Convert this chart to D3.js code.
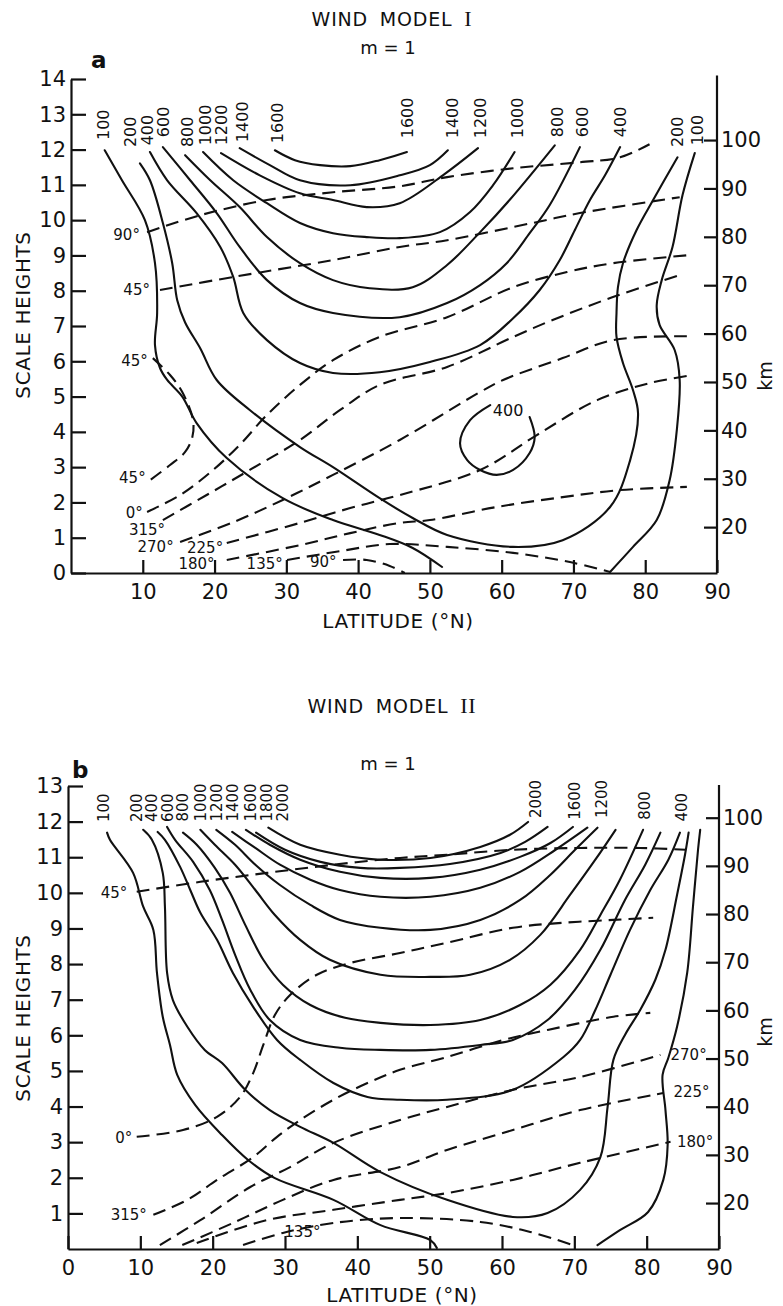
<!DOCTYPE html>
<html>
<head>
<meta charset="utf-8">
<script src="https://cdn.jsdelivr.net/npm/d3@7"></script>
<style>
  body { margin: 0; background: #fff; }
  text { font-family: "DejaVu Sans", sans-serif; fill: #111; }
</style>
</head>
<body>
<div class="canvas"></div>
<script>
// ---------- shared ticks ----------
const latTicksA = [10, 20, 30, 40, 50, 60, 70, 80, 90];
const latTicksB = [0, 10, 20, 30, 40, 50, 60, 70, 80, 90];
const shTicksA = d3.range(0, 15);
const shTicksB = d3.range(1, 14);
const kmTicks = [20, 30, 40, 50, 60, 70, 80, 90, 100];

// ---------- panel a : wind model I  ([latitude °N, scale heights]) ----------
const a100W = [[4.7,11.98],[7.1,11.13],[10.3,10.0],[11.7,8.78],[12.0,7.37],[11.7,6.46],[12.4,5.81],[13.4,5.47],[15.5,5.0],[17.5,4.25],[21.7,3.26],[29.5,2.12],[36.5,1.5],[43.0,1.08],[47.6,0.71],[51.7,0.17]];
const a100E = [[86.9,11.9],[85.2,10.71],[83.8,9.24],[82.3,8.3],[81.6,7.59],[82.0,7.03],[84.1,6.32],[84.8,5.47],[84.4,4.05],[83.4,2.63],[81.6,1.5],[78.3,0.74],[75.1,0.03]];
const a200 = [[9.6,11.61],[11.0,11.13],[12.8,9.92],[14.1,8.78],[14.8,7.73],[15.9,7.1],[18.0,6.37],[20.3,5.47],[24.9,4.62],[31.9,3.57],[36.5,3.0],[43.0,2.12],[47.6,1.56],[52.4,1.08],[61.6,0.74],[68.5,0.93],[75.1,1.87],[77.9,3.2],[79.0,4.53],[78.3,5.18],[76.9,5.95],[76.0,6.69],[76.0,7.37],[76.2,8.1],[76.9,8.78],[78.8,9.72],[81.1,10.57],[84.5,11.78]];
const a400 = [[11.0,11.93],[13.4,11.13],[17.5,10.2],[20.8,9.24],[22.6,8.39],[24.0,7.37],[27.3,6.6],[31.9,5.95],[36.5,5.67],[43.0,5.69],[50.0,5.98],[57.0,6.46],[61.6,7.22],[65.3,8.02],[68.1,8.87],[70.2,9.72],[72.3,10.57],[74.4,11.27],[76.5,12.07]];
const a600 = [[12.8,12.07],[16.6,11.13],[20.3,10.2],[23.5,9.24],[27.3,8.3],[31.9,7.65],[36.5,7.37],[45.8,7.25],[52.4,7.65],[57.0,8.16],[60.7,8.78],[63.9,9.63],[66.7,10.43],[70.9,12.07]];
const a800 = [[15.9,11.84],[19.4,11.13],[23.5,10.37],[27.3,9.52],[31.9,8.78],[36.5,8.3],[41.6,8.07],[47.6,8.1],[52.4,8.73],[57.0,9.66],[61.1,10.57],[67.4,12.12]];
const a1000 = [[18.4,11.93],[22.6,11.13],[27.3,10.48],[31.9,9.92],[36.5,9.63],[41.2,9.52],[45.8,9.49],[51.4,9.66],[55.6,10.23],[58.8,10.99],[61.8,11.93]];
const a1200 = [[20.9,11.9],[26.3,11.27],[31.9,10.76],[36.5,10.57],[41.2,10.37],[45.8,10.48],[51.8,11.27],[56.7,12.04]];
const a1400 = [[23.5,12.04],[27.7,11.56],[31.9,11.13],[38.9,10.99],[45.8,11.27],[50.0,11.56],[52.5,11.98]];
const a1600 = [[28.4,11.98],[31.2,11.7],[34.7,11.56],[38.9,11.53],[43.0,11.7],[46.8,11.93]];
const a400Cell = [[63.9,4.42],[64.6,3.85],[63.9,3.4],[61.6,2.92],[59.3,2.78],[57.0,2.92],[55.2,3.2],[54.2,3.68],[55.6,4.33],[58.4,4.76]];

const aPh90Top = [[10.6,9.66],[18.0,10.14],[27.3,10.57],[36.5,10.79],[45.8,10.96],[52.4,11.22],[61.6,11.47],[70.9,11.64],[76.5,11.78],[80.6,12.15]];
const aPh45Top = [[12.4,8.02],[22.6,8.39],[36.5,8.87],[45.8,9.24],[52.4,9.43],[64.3,9.92],[70.9,10.2],[84.8,10.65]];
const aPh45Hook = [[11.4,6.09],[13.8,5.61],[15.5,5.13],[17.0,4.33],[16.9,3.85],[15.9,3.43],[13.8,3.06],[11.0,2.63]];
const aPh0 = [[10.6,1.73],[15.2,2.21],[19.8,2.92],[23.5,3.63],[27.3,4.48],[31.9,5.33],[36.5,6.03],[43.0,6.69],[52.4,7.25],[61.6,8.1],[69.1,8.53],[75.5,8.78],[86.2,9.01]];
const aPh315 = [[12.8,1.5],[18.9,2.21],[24.9,2.92],[31.9,3.77],[37.5,4.62],[43.0,5.33],[52.4,5.84],[61.6,6.69],[67.1,7.17],[75.5,7.82],[85.2,8.47]];
const aPh270 = [[15.2,0.88],[22.6,1.44],[29.5,2.07],[36.5,2.78],[45.8,3.77],[57.0,5.13],[60.2,5.47],[68.5,6.09],[75.5,6.6],[85.8,6.71]];
const aPh225 = [[21.7,0.85],[31.9,1.42],[38.9,1.84],[45.8,2.21],[57.0,2.92],[64.9,3.91],[73.3,4.9],[80.6,5.38],[86.6,5.61]];
const aPh180 = [[21.7,0.37],[31.9,0.79],[38.9,1.13],[45.8,1.42],[50.0,1.5],[59.3,1.87],[68.5,2.15],[76.5,2.35],[85.8,2.44]];
const aPh135 = [[30.1,0.37],[37.5,0.62],[44.4,0.82],[52.4,0.74],[61.6,0.57],[69.5,0.31],[75.1,0.03]];
const aPh90Low = [[37.9,0.37],[41.2,0.37],[44.4,0.2],[46.5,0.0]];

// contour value labels: [value, latitude, scale height at label foot]
const aTopLabels = [['100',4.5,12.27],['200',8.2,12.07],['400',10.6,12.12],['600',12.8,12.35],['800',16.2,12.07],['1000',18.7,12.12],['1200',21.0,12.12],['1400',23.8,12.21],['1600',28.7,12.18],
  ['1600',46.9,12.32],['1400',53.1,12.32],['1200',57.0,12.32],['1000',62.1,12.32],['800',67.7,12.35],['600',71.2,12.35],['400',76.5,12.35],['200',84.4,12.07],['100',87.3,12.12]];
const aCellLabel = [['400',60.9,4.62]];
const aPhaseLabelsL = [['90°',9.6,9.58],['45°',11.0,8.02],['45°',10.7,6.03],['45°',10.4,2.69],['0°',10.0,1.70],['315°',13.1,1.22],['270°',14.3,0.74],['225°',21.2,0.71],['180°',20.0,0.26],['135°',29.5,0.28],['90°',37.0,0.31]];
const aPhaseLabelsR = [];

// ---------- panel b : wind model II ----------
const b100W = [[5.4,11.69],[5.8,11.49],[9.0,10.56],[10.4,9.61],[11.8,8.96],[12.3,7.75],[13.1,6.52],[14.1,5.73],[15.1,4.89],[17.6,4.04],[21.3,3.2],[24.9,2.5],[28.6,1.99],[36.7,1.38],[43.2,0.67],[50.1,0.25],[51.0,0.03]];
const b100E = [[87.4,11.77],[87.1,11.21],[86.4,9.61],[85.6,7.75],[84.2,6.24],[83.0,5.37],[82.2,4.89],[82.6,3.9],[82.9,2.92],[82.3,1.94],[80.2,1.04],[76.3,0.53],[73.2,0.11]];
const b200 = [[10.4,11.77],[11.6,11.49],[13.1,10.56],[13.4,9.61],[13.7,7.75],[14.5,6.99],[16.5,6.24],[18.9,5.59],[21.3,5.22],[24.5,4.47],[27.9,3.9],[32.1,3.43],[36.7,2.98],[43.2,2.16],[52.4,1.38],[61.5,0.9],[66.3,1.01],[70.8,1.66],[73.6,2.58],[74.6,3.99],[75.4,5.31],[77.0,6.01],[79.1,6.71],[81.2,7.56],[82.6,8.4],[84.2,9.94],[85.3,11.07],[85.8,11.69]];
const b400 = [[12.4,11.71],[13.4,11.49],[15.5,10.73],[16.9,10.08],[18.3,9.44],[20.6,8.68],[22.8,7.75],[25.6,6.8],[28.9,5.87],[32.1,5.31],[36.7,4.66],[41.4,4.27],[45.9,4.19],[52.4,4.19],[61.5,4.47],[68.5,5.39],[70.8,5.87],[72.9,6.71],[75.0,7.7],[77.7,8.96],[80.5,10.08],[83.0,10.93],[84.6,11.69]];
const b600 = [[13.7,11.85],[14.8,11.49],[17.3,10.87],[19.6,10.08],[21.3,9.24],[23.1,8.26],[25.2,7.28],[27.9,6.43],[32.1,5.87],[37.6,5.65],[43.2,5.59],[50.1,5.59],[57.0,5.73],[61.5,5.87],[66.3,6.43],[70.1,7.28],[73.6,8.4],[77.0,9.8],[79.8,10.79],[81.9,11.69]];
const b800 = [[15.9,11.69],[17.8,11.35],[20.3,10.7],[22.4,10.0],[24.5,9.1],[27.0,8.12],[29.7,7.42],[33.5,6.85],[38.3,6.49],[43.2,6.35],[50.1,6.29],[57.0,6.43],[62.5,6.85],[66.7,7.42],[70.8,8.4],[73.6,9.38],[76.3,10.37],[79.5,11.77]];
const b1000 = [[18.3,11.77],[20.3,11.35],[23.1,10.79],[25.9,10.08],[28.6,9.38],[32.1,8.68],[36.2,8.12],[43.2,7.7],[50.1,7.64],[55.6,7.7],[61.1,8.12],[65.3,8.82],[69.4,9.94],[72.9,10.93],[75.7,11.77]];
const b1200 = [[20.5,11.77],[23.1,11.35],[25.9,10.79],[29.3,10.22],[33.5,9.66],[37.6,9.24],[43.2,9.02],[50.1,8.96],[57.0,9.24],[62.5,9.8],[66.7,10.51],[70.1,11.21],[73.2,11.83]];
const b1400 = [[22.7,11.71],[25.9,11.26],[29.3,10.79],[33.5,10.37],[37.6,10.08],[43.2,9.89],[50.1,9.89],[57.0,10.14],[62.5,10.59],[67.4,11.21],[71.8,11.83]];
const b1600 = [[24.6,11.77],[27.9,11.35],[32.1,10.93],[37.6,10.59],[43.2,10.42],[50.1,10.42],[57.0,10.65],[62.5,11.01],[66.7,11.4],[69.8,11.85]];
const b1800 = [[26.0,11.69],[30.0,11.21],[34.9,10.87],[40.4,10.7],[45.9,10.7],[52.8,10.81],[59.8,11.12],[63.2,11.43],[66.3,11.85]];
const b2000 = [[27.7,11.83],[32.1,11.35],[37.6,11.07],[43.2,10.93],[50.1,10.98],[57.0,11.29],[61.1,11.63],[63.6,11.99]];

const bPh45 = [[9.5,10.03],[18.3,10.31],[27.5,10.56],[36.7,10.79],[45.9,10.98],[52.4,11.07],[61.5,11.21],[70.8,11.26],[79.1,11.26],[85.4,11.21]];
const bPh0 = [[9.5,3.15],[15.9,3.34],[20.6,3.71],[23.8,4.27],[25.6,4.94],[27.0,5.73],[28.6,6.57],[30.7,7.13],[34.4,7.7],[39.0,8.03],[45.9,8.31],[52.4,8.6],[61.5,9.02],[68.5,9.16],[75.4,9.24],[80.9,9.3]];
const bPh315 = [[11.8,0.96],[16.5,1.38],[20.6,1.94],[25.6,2.58],[28.9,3.15],[32.1,3.62],[36.7,4.19],[41.4,4.66],[45.9,5.03],[52.4,5.39],[60.2,5.87],[66.3,6.15],[75.4,6.52],[80.5,6.63]];
const bPh270 = [[12.7,0.11],[18.3,0.81],[25.2,1.74],[30.7,2.3],[36.7,2.98],[45.9,3.62],[52.4,3.99],[61.5,4.47],[70.8,4.83],[81.9,5.45]];
const bPh225 = [[15.8,0.11],[22.8,0.73],[29.7,1.38],[36.7,1.94],[45.9,2.3],[52.4,2.78],[61.5,3.34],[70.8,3.9],[82.3,4.38]];
const bPh180 = [[17.8,0.17],[27.5,0.81],[36.7,1.1],[45.9,1.38],[52.4,1.57],[61.5,1.94],[70.8,2.42],[83.3,3.01]];
const bPh135 = [[24.2,0.11],[29.7,0.45],[36.7,0.73],[45.9,0.87],[57.0,0.76],[63.9,0.48],[69.8,0.11]];

const bTopLabels = [['100',4.9,11.99],['200',9.5,11.99],['400',11.6,11.99],['600',13.8,11.99],['800',15.8,12.0],['1000',18.3,12.0],['1200',20.6,12.0],['1400',22.8,12.0],['1600',25.2,12.0],['1800',27.5,12.0],['2000',29.7,12.0],
  ['2000',64.6,12.1],['1600',70.1,12.05],['1200',73.7,12.1],['800',79.7,12.05],['400',84.8,12.0]];
const bPhaseLabelsL = [['45°',8.2,10.0],['0°',8.9,3.12],['315°',10.9,0.96],['135°',34.9,0.48]];
const bPhaseLabelsR = [['270°',83.3,5.45],['225°',83.7,4.41],['180°',84.2,3.01]];

// ---------- drawing ----------
const svg = d3.select('.canvas')
  .append('svg')
    .attr('width', 783)
    .attr('height', 1306);

function drawPanel(p) {
  const x = d3.scaleLinear().domain([0, 90]).range([p.left, p.right]);
  const y = d3.scaleLinear().domain([0, p.shMax]).range([p.bottom, p.top]);
  const yKm = d3.scaleLinear().domain([20, 100]).range([y(p.kmAtSH[0]), y(p.kmAtSH[1])]);
  const g = svg.append('g');

  const line = d3.line()
    .x(d => x(d[0]))
    .y(d => y(d[1]))
    .curve(d3.curveCatmullRom.alpha(0.5));

  // contours of amplitude
  g.selectAll('path.solid').data(p.solid).enter()
    .append('path')
      .attr('class', 'solid')
      .attr('d', line)
      .attr('fill', 'none')
      .attr('stroke', '#111')
      .attr('stroke-width', 2.1)
      .attr('stroke-linecap', 'round');

  // phase lines
  g.selectAll('path.phase').data(p.phase).enter()
    .append('path')
      .attr('class', 'phase')
      .attr('d', line)
      .attr('fill', 'none')
      .attr('stroke', '#111')
      .attr('stroke-width', 2.1)
      .attr('stroke-dasharray', '13,7');

  // axes
  const xAxis = d3.axisBottom(x).tickValues(p.latTicks).tickSizeInner(-13).tickSizeOuter(0).tickPadding(11);
  const yAxis = d3.axisLeft(y).tickValues(p.shTicks).tickSizeInner(-15).tickSizeOuter(0).tickPadding(5);
  const kmAxis = d3.axisRight(yKm).tickValues(kmTicks).tickSizeInner(-13).tickSizeOuter(0).tickPadding(4);

  const xg = g.append('g').attr('transform', `translate(0,${p.bottom})`).call(xAxis);
  const yg = g.append('g').attr('transform', `translate(${p.left},0)`).call(yAxis);
  const kg = g.append('g').attr('transform', `translate(${p.right},0)`).call(kmAxis);
  kg.select('.domain').remove();

  g.append('line')
    .attr('x1', x(90)).attr('x2', x(90))
    .attr('y1', y(0)).attr('y2', y(p.rightTopSH))
    .attr('stroke', '#111').attr('stroke-width', 2.2);

  [xg, yg, kg].forEach(a => {
    a.selectAll('.domain').attr('stroke', '#111').attr('stroke-width', 2.2);
    a.selectAll('.tick line').attr('stroke', '#111').attr('stroke-width', 2.2);
    a.selectAll('.tick text')
      .attr('font-family', '"DejaVu Sans", sans-serif')
      .attr('font-size', 21)
      .attr('fill', '#111');
  });

  // contour value labels (rotated)
  g.selectAll('text.cl').data(p.topLabels).enter()
    .append('text')
      .attr('transform', d => `translate(${x(d[1])},${y(d[2])}) rotate(-90)`)
      .attr('dy', '0.36em')
      .attr('font-size', p.clSize)
      .text(d => d[0]);

  g.selectAll('text.cell').data(p.cellLabels).enter()
    .append('text')
      .attr('x', d => x(d[1]))
      .attr('y', d => y(d[2]))
      .attr('dy', '0.36em')
      .attr('text-anchor', 'middle')
      .attr('font-size', 16)
      .text(d => d[0]);

  // phase labels
  g.selectAll('text.pl').data(p.phaseLabelsL).enter()
    .append('text')
      .attr('x', d => x(d[1]))
      .attr('y', d => y(d[2]))
      .attr('dy', '0.36em')
      .attr('text-anchor', 'end')
      .attr('font-size', 15)
      .text(d => d[0]);
  g.selectAll('text.pr').data(p.phaseLabelsR).enter()
    .append('text')
      .attr('x', d => x(d[1]))
      .attr('y', d => y(d[2]))
      .attr('dy', '0.36em')
      .attr('text-anchor', 'start')
      .attr('font-size', 15)
      .text(d => d[0]);

  // axis titles
  g.append('text')
    .attr('x', p.latTitle[0]).attr('y', p.latTitle[1])
    .attr('text-anchor', 'middle')
    .attr('font-size', 20)
    .attr('letter-spacing', 0.6)
    .text('LATITUDE (°N)');
  g.append('text')
    .attr('transform', `translate(${p.shTitle[0]},${p.shTitle[1]}) rotate(-90)`)
    .attr('text-anchor', 'middle')
    .attr('font-size', 20)
    .attr('letter-spacing', 0.6)
    .text('SCALE HEIGHTS');
  g.append('text')
    .attr('transform', `translate(${p.kmTitle[0]},${p.kmTitle[1]}) rotate(-90)`)
    .attr('text-anchor', 'middle')
    .attr('font-size', 19)
    .text('km');

  // panel titles
  const t = g.append('text')
    .attr('x', p.title[0]).attr('y', p.title[1])
    .attr('text-anchor', 'middle')
    .attr('font-size', 19)
    .attr('letter-spacing', 0.8)
    .attr('word-spacing', 5);
  t.append('tspan').text('WIND MODEL ');
  t.append('tspan').attr('font-family', '"Liberation Serif", serif').attr('font-size', 22).text(p.roman);
  g.append('text')
    .attr('x', p.mTitle[0]).attr('y', p.mTitle[1])
    .attr('text-anchor', 'middle')
    .attr('font-size', 18)
    .text('m = 1');
  g.append('text')
    .attr('x', p.letter[0]).attr('y', p.letter[1])
    .attr('font-size', 23)
    .attr('font-weight', 'bold')
    .text(p.letterText);
}

drawPanel({
  left: 71, right: 717, bottom: 573, top: 79, shMax: 14,
  kmAtSH: [1.30, 12.27], rightTopSH: 14.1,
  latTicks: latTicksA, shTicks: shTicksA,
  solid: [a100W, a100E, a200, a400, a600, a800, a1000, a1200, a1400, a1600, a400Cell],
  phase: [aPh90Top, aPh45Top, aPh45Hook, aPh0, aPh315, aPh270, aPh225, aPh180, aPh135, aPh90Low],
  topLabels: aTopLabels, clSize: 16, cellLabels: aCellLabel,
  phaseLabelsL: aPhaseLabelsL, phaseLabelsR: aPhaseLabelsR,
  latTitle: [398, 628], shTitle: [30, 315], kmTitle: [772, 376],
  title: [392, 26], roman: 'I', mTitle: [388, 54], letter: [91, 68], letterText: 'a'
});

drawPanel({
  left: 68, right: 719, bottom: 1249, top: 786, shMax: 13,
  kmAtSH: [1.29, 12.11], rightTopSH: 13.03,
  latTicks: latTicksB, shTicks: shTicksB,
  solid: [b100W, b100E, b200, b400, b600, b800, b1000, b1200, b1400, b1600, b1800, b2000],
  phase: [bPh45, bPh0, bPh315, bPh270, bPh225, bPh180, bPh135],
  topLabels: bTopLabels, clSize: 15, cellLabels: [],
  phaseLabelsL: bPhaseLabelsL, phaseLabelsR: bPhaseLabelsR,
  latTitle: [402, 1302], shTitle: [30, 1018], kmTitle: [772, 1032],
  title: [392, 713], roman: 'II', mTitle: [388, 770], letter: [72, 778], letterText: 'b'
});
</script>
</body>
</html>
